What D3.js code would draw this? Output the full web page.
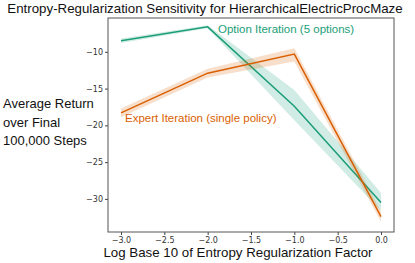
<!DOCTYPE html>
<html>
<head>
<meta charset="utf-8">
<script src="https://cdn.jsdelivr.net/npm/d3@7"></script>
<style>
  body { margin: 0; background: #fff; }
  text { font-family: "Liberation Sans", Arial, sans-serif; }
</style>
</head>
<body>
<div id="chart"></div>
<script>
// data
var xValues = [-3, -2, -1, 0];
var optionMean = [-8.5, -6.6, -17.4, -30.5];
var optionLow = [-8.8, -6.8, -19.3, -31.6];
var optionHigh = [-8.2, -6.4, -15.2, -29.2];
var expertMean = [-18.3, -12.9, -10.3, -32.4];
var expertLow = [-18.9, -13.5, -11.3, -33.1];
var expertHigh = [-17.7, -12.3, -9.5, -31.7];
var xTicks = [-3.0, -2.5, -2.0, -1.5, -1.0, -0.5, 0.0];
var yTicks = [-10, -15, -20, -25, -30];

var svgWidth = 415, svgHeight = 263;
var margin = { top: 18, right: 21, bottom: 31, left: 108 };
var width = svgWidth - margin.left - margin.right;
var height = svgHeight - margin.top - margin.bottom;

var svg = d3.select("#chart").append("svg")
  .attr("width", svgWidth)
  .attr("height", svgHeight);

var chartGroup = svg.append("g")
  .attr("transform", `translate(${margin.left}, ${margin.top})`);

var xScale = d3.scaleLinear().domain([-3.15, 0.15]).range([0, width]);
var yScale = d3.scaleLinear().domain([-34.5, -5.4]).range([height, 0]);

var green = "#1b9e77", orange = "#d95f02";
var fmtMinus = s => s.replace("-", "\u2212");

// axes
var bottomAxis = d3.axisBottom(xScale).tickValues(xTicks).tickSize(3).tickPadding(2)
  .tickFormat(d => fmtMinus(d3.format(".1f")(d)));
var leftAxis = d3.axisLeft(yScale).tickValues(yTicks).tickSize(3).tickPadding(2)
  .tickFormat(d => fmtMinus(String(d)));

var xAxisG = chartGroup.append("g").attr("transform", `translate(0, ${height})`).call(bottomAxis);
var yAxisG = chartGroup.append("g").call(leftAxis);
[xAxisG, yAxisG].forEach(function(g) {
  g.select(".domain").remove();
  g.selectAll("line").attr("stroke", "#444");
  g.selectAll("text").attr("fill", "#333").style("font-size", "8px")
    .style("font-family", "'DejaVu Sans', sans-serif");
});

// frame
chartGroup.append("rect")
  .attr("width", width).attr("height", height)
  .attr("fill", "none").attr("stroke", "#555").attr("stroke-width", 1);

// bands
var area = d3.area()
  .x((d, i) => xScale(xValues[i]))
  .y0(d => yScale(d[0]))
  .y1(d => yScale(d[1]));

function series(mean, low, high, color) {
  chartGroup.append("path")
    .datum(low.map((v, i) => [v, high[i]]))
    .attr("d", area)
    .attr("fill", color)
    .attr("fill-opacity", 0.2);
  var line = d3.line()
    .x((d, i) => xScale(xValues[i]))
    .y(d => yScale(d));
  chartGroup.append("path")
    .datum(mean)
    .attr("d", line)
    .attr("fill", "none")
    .attr("stroke", color)
    .attr("stroke-width", 1.5);
}
series(optionMean, optionLow, optionHigh, green);
series(expertMean, expertLow, expertHigh, orange);

// series labels
chartGroup.append("text")
  .attr("x", 110).attr("y", 15)
  .attr("fill", green).style("font-size", "11.5px")
  .text("Option Iteration (5 options)");
chartGroup.append("text")
  .attr("x", 17).attr("y", 104)
  .attr("fill", orange).style("font-size", "11.5px")
  .text("Expert Iteration (single policy)");

// title
svg.append("text")
  .attr("x", 205).attr("y", 13)
  .attr("text-anchor", "middle")
  .style("font-size", "13.3px")
  .attr("fill", "#111")
  .text("Entropy-Regularization Sensitivity for HierarchicalElectricProcMaze");

// axis labels
var yLabel = ["Average Return", "over Final", "100,000 Steps"];
svg.append("text")
  .attr("x", 3).attr("y", 108)
  .style("font-size", "13px")
  .attr("fill", "#111")
  .selectAll("tspan").data(yLabel).enter().append("tspan")
  .attr("x", 3).attr("dy", (d, i) => i === 0 ? 0 : 18.5)
  .text(d => d);

svg.append("text")
  .attr("x", 238).attr("y", 257)
  .attr("text-anchor", "middle")
  .style("font-size", "13.3px")
  .attr("fill", "#111")
  .text("Log Base 10 of Entropy Regularization Factor");
</script>
</body>
</html>
